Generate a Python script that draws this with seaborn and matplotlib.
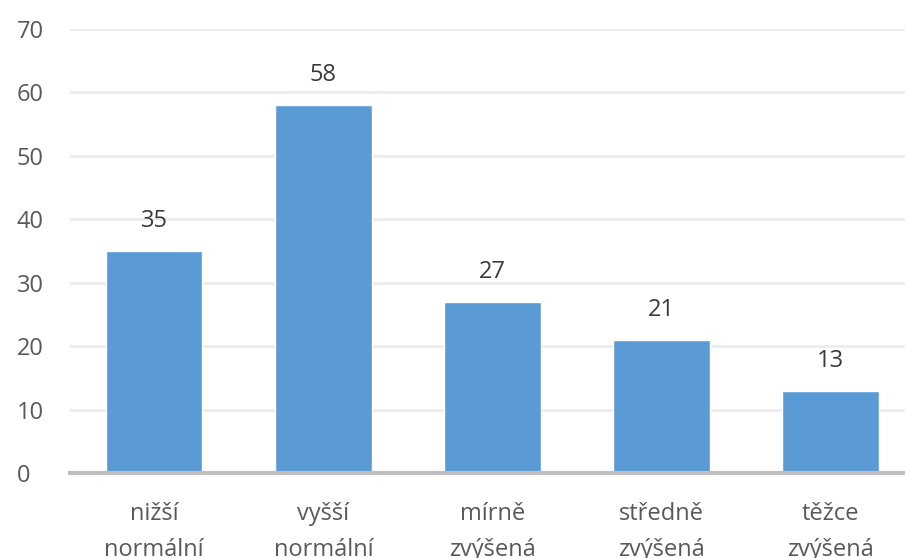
import matplotlib
matplotlib.use("Agg")
import matplotlib.pyplot as plt
import pandas as pd
import seaborn as sns

categories = ["nižší\nnormální", "vyšší\nnormální", "mírně\nzvýšená", "středně\nzvýšená", "těžce\nzvýšená"]
values = [35, 58, 27, 21, 13]
yticks = [0, 10, 20, 30, 40, 50, 60, 70]

df = pd.DataFrame({"kategorie": categories, "pocet": values})

sns.set_theme(style="white")
plt.rcParams["font.family"] = ["Open Sans", "DejaVu Sans"]

fig = plt.figure(figsize=(9.05, 5.58), dpi=100)
ax = fig.add_axes([0.077, 0.152, 0.923, 0.796])

sns.barplot(data=df, x="kategorie", y="pocet", color="#5B9BD5", width=0.57,
            saturation=1, ax=ax, zorder=3)

ax.set_ylim(0, 70)
ax.set_xlim(-0.5, 4.44)
ax.set_yticks(yticks)
ax.yaxis.grid(True, color="#ECECEC", linewidth=2, zorder=0)
ax.set_axisbelow(True)
for s in ["top", "right", "left"]:
    ax.spines[s].set_visible(False)
ax.spines["bottom"].set_color("#BFBFBF")
ax.spines["bottom"].set_linewidth(3)
ax.spines["bottom"].set_zorder(4)

ax.tick_params(axis="both", length=0, labelsize=17, labelcolor="#595959")
ax.tick_params(axis="x", pad=21)
ax.tick_params(axis="y", pad=38)
for lab in ax.get_xticklabels():
    lab.set_linespacing(1.65)
for lab in ax.get_yticklabels():
    lab.set_horizontalalignment("left")
ax.set_xlabel("")
ax.set_ylabel("")

for i, v in enumerate(values):
    ax.annotate(str(v), (i, v), xytext=(0, 13), textcoords="offset points",
                ha="center", va="bottom", fontsize=17, color="#3A3A3A")

fig.savefig("out.png", dpi=100)
